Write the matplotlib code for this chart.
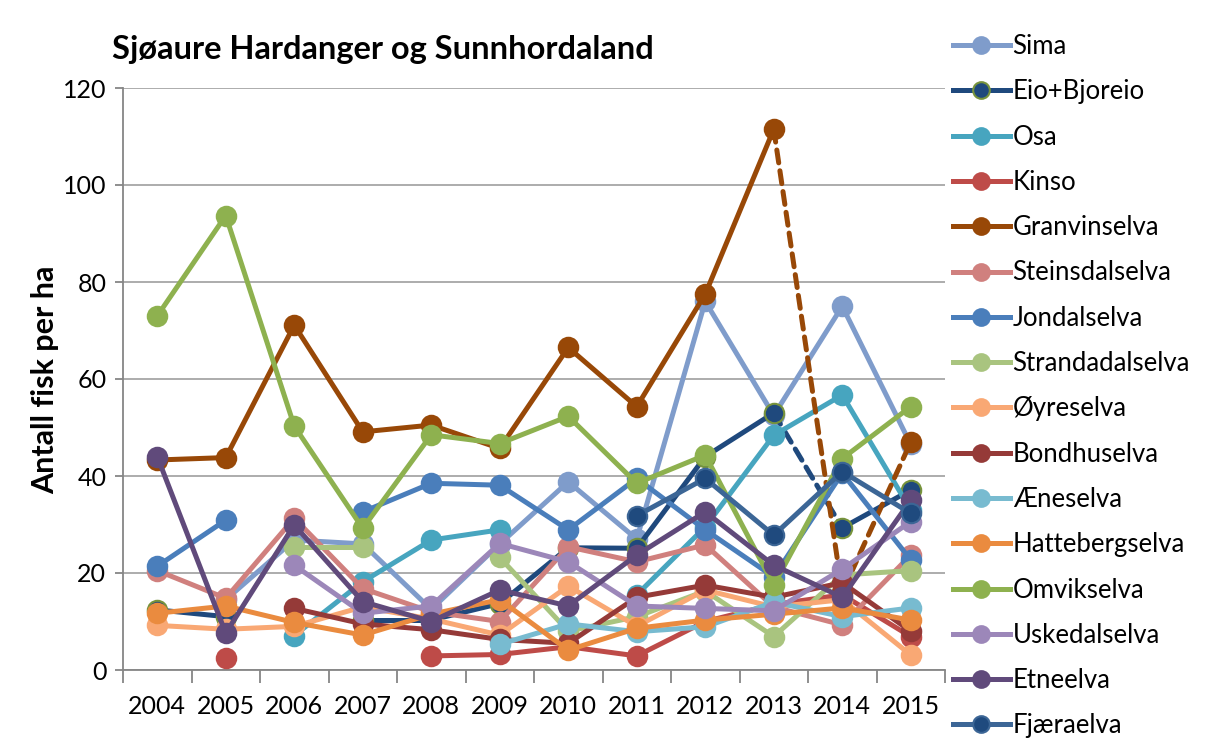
import numpy as np
import matplotlib
matplotlib.use('Agg')
from matplotlib import pyplot as plt
from matplotlib.lines import Line2D

nan = np.nan

years = ['2004', '2005', '2006', '2007', '2008', '2009', '2010', '2011', '2012', '2013', '2014', '2015']

# Fish per ha (nan = no sample)
sima = [nan, 14.5, 26.8, 26.0, 12.5, 26.0, 38.8, 27.0, 76.0, 52.5, 75.0, 46.5]
eio_bjoreio = [12.4, 11.0, nan, 10.3, 10.3, 13.7, 25.2, 25.1, 44.0, 53.0, 29.3, 37.1]
osa = [nan, nan, 7.1, 18.2, 26.8, 28.9, nan, 15.5, 29.5, 48.4, 56.7, 33.0]
kinso = [nan, 2.5, nan, nan, 2.9, 3.2, 4.8, 2.9, 10.0, 13.5, 15.5, 6.9]
granvinselva = [43.3, 43.8, 71.1, 49.1, 50.5, 45.7, 66.5, 54.3, 77.5, 111.5, 16.0, 47.0]
steinsdalselva = [20.5, 14.8, 31.3, 16.8, 12.0, 10.0, 25.4, 22.3, 25.8, 13.0, 9.3, 23.7]
jondalselva = [21.4, 30.9, nan, 32.6, 38.5, 38.1, 28.9, 39.5, 28.9, 19.2, 40.6, 22.7]
strandadalselva = [nan, nan, 25.4, 25.4, nan, 23.2, 8.0, 11.0, 16.3, 6.9, 19.6, 20.5]
oyreselva = [9.2, 8.4, 9.0, 13.0, 10.5, 7.2, 17.3, 9.0, 16.5, 13.0, 14.5, 3.1]
bondhuselva = [nan, nan, 12.7, 9.5, 8.3, 6.3, 5.5, 15.0, 17.5, 15.0, 18.0, 8.0]
aeneselva = [nan, nan, nan, nan, nan, 5.3, 9.5, 7.9, 8.9, 14.0, 11.0, 12.8]
hattebergselva = [11.7, 13.2, 9.8, 7.2, 11.5, 14.5, 4.1, 8.6, 10.3, 11.5, 12.8, 10.3]
omvikselva = [73.0, 93.7, 50.3, 29.2, 48.5, 46.7, 52.3, 38.5, 44.3, 17.5, 43.6, 54.3]
uskedalselva = [nan, nan, 21.6, 11.7, 13.2, 26.1, 22.3, 13.2, 12.7, 12.2, 20.8, 30.6]
etneelva = [44.0, 7.6, 29.9, 14.1, 10.0, 16.5, 13.2, 23.7, 32.6, 21.6, 15.0, 35.0]
fjaeraelva = [nan, nan, nan, nan, nan, nan, nan, 31.8, 39.5, 27.8, 40.9, 32.3]

# name, values, line colour, marker face, marker edge, dashed segments (start index)
series = [
    ('Sima', sima, '#7F9CCB', '#7F9CCB', '#7F9CCB', []),
    ('Eio+Bjoreio', eio_bjoreio, '#1F497D', '#1F497D', '#77933C', [9]),
    ('Osa', osa, '#47A5BF', '#47A5BF', '#47A5BF', []),
    ('Kinso', kinso, '#BE4B48', '#BE4B48', '#BE4B48', []),
    ('Granvinselva', granvinselva, '#984807', '#984807', '#984807', [9, 10]),
    ('Steinsdalselva', steinsdalselva, '#D0807E', '#D0807E', '#D0807E', []),
    ('Jondalselva', jondalselva, '#4A7EBB', '#4A7EBB', '#4A7EBB', []),
    ('Strandadalselva', strandadalselva, '#A9C47F', '#A9C47F', '#A9C47F', []),
    ('Øyreselva', oyreselva, '#F9A874', '#F9A874', '#F9A874', []),
    ('Bondhuselva', bondhuselva, '#953A38', '#953A38', '#953A38', []),
    ('Æneselva', aeneselva, '#78BBD0', '#78BBD0', '#78BBD0', []),
    ('Hattebergselva', hattebergselva, '#EA8B3F', '#EA8B3F', '#EA8B3F', []),
    ('Omvikselva', omvikselva, '#8EB14F', '#8EB14F', '#8EB14F', []),
    ('Uskedalselva', uskedalselva, '#9C87B9', '#9C87B9', '#9C87B9', []),
    ('Etneelva', etneelva, '#604A7B', '#604A7B', '#604A7B', []),
    ('Fjæraelva', fjaeraelva, '#3C6696', '#1F4A7E', '#3C6696', []),
]

plt.rcParams['font.family'] = ['Lato', 'DejaVu Sans']

LW = 3.6
MS = 14


def main():
    fig = plt.figure(figsize=(12.16, 7.53), dpi=100)
    ax = fig.add_axes([123 / 1216, 1 - 670 / 753, (945 - 123) / 1216, (670 - 88) / 753])

    x = np.arange(len(years))
    handles = []
    for k, (name, vals, lc, mfc, mec, dashed) in enumerate(series):
        v = np.array(vals, dtype=float)
        z = 3 + k
        for i in range(len(v) - 1):
            if np.isnan(v[i]) or np.isnan(v[i + 1]):
                continue
            ls = (0, (2.6, 1.6)) if i in dashed else '-'
            ax.plot(x[i:i + 2], v[i:i + 2], color=lc, lw=LW, ls=ls,
                    solid_capstyle='round', dash_capstyle='round', zorder=z)
        ax.plot(x, v, ls='none', marker='o', ms=MS, mfc=mfc, mec=mec,
                mew=1.5, zorder=z)
        handles.append(Line2D([], [], color=lc, lw=LW, marker='o', ms=12,
                              mfc=mfc, mec=mec, mew=1.5, label=name))

    ax.set_xlim(-0.5, len(years) - 0.5)
    ax.set_ylim(0, 120)
    ax.set_yticks(range(0, 121, 20))
    ax.set_xticks(x)
    ax.set_xticklabels(years)
    ax.set_xticks(np.arange(-0.5, len(years)), minor=True)
    ax.tick_params(axis='x', which='major', length=0, pad=18, labelsize=18)
    ax.tick_params(axis='x', which='minor', length=9, width=1.3, color='#868686')
    ax.tick_params(axis='y', length=6, width=1.3, color='#868686', pad=6, labelsize=18)
    ax.grid(axis='y', color='#A6A6A6', lw=1.3, zorder=0)
    ax.set_axisbelow(True)
    for s in ['top', 'right']:
        ax.spines[s].set_visible(False)
    for s in ['left', 'bottom']:
        ax.spines[s].set_color('#868686')
        ax.spines[s].set_linewidth(1.3)

    fig.text(112 / 1216, 1 - 50 / 753, 'Sjøaure Hardanger og Sunnhordaland',
             fontsize=23.5, fontweight='bold', va='center', ha='left')
    fig.text(45 / 1216, 1 - 380 / 753, 'Antall fisk per ha', rotation=90,
             fontsize=22, fontweight='bold', va='center', ha='center')

    fig.legend(handles=handles, loc='upper left', bbox_to_anchor=(953 / 1216, 1 - 34 / 753),
               frameon=False, fontsize=18.5, handlelength=2.2, handletextpad=0.12,
               labelspacing=0.79, borderaxespad=0, borderpad=0)

    fig.savefig('out.png', dpi=100)
    plt.close(fig)


if __name__ == '__main__':
    main()
